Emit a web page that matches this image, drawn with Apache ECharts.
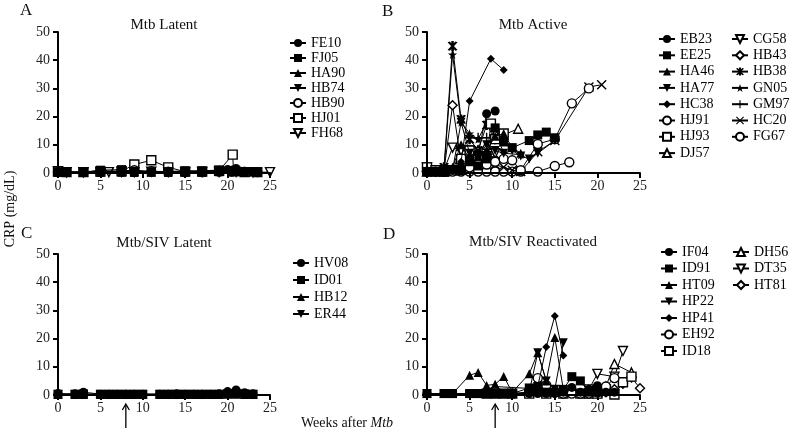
<!DOCTYPE html>
<html><head><meta charset="utf-8">
<script src="https://cdn.jsdelivr.net/npm/echarts@6/dist/echarts.min.js"></script>
<style>html,body{margin:0;padding:0;background:#fff}#c{width:792px;height:441px}</style>
</head><body><div id="c"></div>
<script>
// ---------- DATA (weeks after Mtb, CRP mg/dL) ----------
const xTicks = [0, 5, 10, 15, 20, 25];
const yTicks = [0, 10, 20, 30, 40, 50];
const panelTitles = ['Mtb Latent', 'Mtb Active', 'Mtb/SIV Latent', 'Mtb/SIV Reactivated'];
const panelLetters = ['A', 'B', 'C', 'D'];

// Panel A: Mtb Latent
const FE10_wk = [0,1,3,5,7.5,9,11,13,15,17,19,20,20.5,21,22,23,23.5];
const FE10_crp = [0.4,0.3,0.3,0.8,0.6,0.5,0.4,0.4,0.5,0.5,1.0,1.2,1.0,1.6,0.6,0.4,0.3];
const FJ05_wk = [0,1,3,5,7.5,9,11,13,15,17,19,20.5,21.5,23];
const FJ05_crp = [0.3,0.4,0.3,1.0,1.2,0.5,0.3,0.5,0.8,0.8,1.0,0.9,0.5,0.3];
const HA90_wk = [0,1,3,5,7.5,9,11,13,15,17,19,20.5,22,23.5];
const HA90_crp = [0.2,0.2,0.2,0.3,0.3,0.2,0.3,0.2,0.3,0.3,0.4,0.5,0.3,0.2];
const HB74_wk = [0,1,3,5,7.5,9,11,13,15,17,19,20.5,22,23.5];
const HB74_crp = [0.1,0.1,0.2,0.2,0.2,0.3,0.2,0.2,0.2,0.2,0.3,0.3,0.2,0.2];
const HB90_wk = [0,1,3,5,7.5,9,11,13,15,17,19,20.5,22,23.5];
const HB90_crp = [0.3,0.3,0.3,0.4,0.5,1.0,0.6,0.5,0.3,0.3,0.5,0.5,0.4,0.3];
const HJ01_wk = [0,1,3,5,7.5,9,11,13,15,17,19,20.6,20.7,22,23.5];
const HJ01_crp = [0.5,0.3,0.3,0.5,0.6,3.0,4.5,2.0,0.5,0.5,0.8,6.5,0.6,0.3,0.3];
const FH68_wk = [0,1,3,5,6,7.5,9,11,13,15,17,19,21,23,25];
const FH68_crp = [0.6,0.3,0.3,0.4,0.3,0.4,0.3,0.5,0.3,0.3,0.4,0.4,0.4,0.3,0.3];

// Panel B: Mtb Active
const EB23_wk = [0,1,2,3,4,5,6,7,8];
const EB23_crp = [0.5,0.5,0.5,1,2,5,7,21,22];
const EE25_wk = [0,1,2,3,4,5,6,7,8,9,10,12,13,14,15];
const EE25_crp = [0.5,0.5,0.5,1,1,4,2.5,5,16,11,9,11.5,13.5,14.5,12.5];
const HA46_wk = [0,1,2,3,4,5,6,7,8,9,10,11];
const HA46_crp = [0.5,0.5,1,2,10,5,6,8,13,14,9,7];
const HA77_wk = [0,1,2,3,4,5,6,7,8,9,10,11,12,13,15];
const HA77_crp = [0.5,0.5,1,1,18,7,6,10,8,7,8,6,5,7,11.5];
const HC38_wk = [0,1,2,3,4,5,7.5,9];
const HC38_crp = [0.5,0.5,0.5,1,4,25.5,40.5,36.5];
const HJ91_wk = [0,1,2,3,4,5,6,7,8,9,10,11,13,15,17,19];
const HJ91_crp = [0.5,0.5,0.5,0.5,1,2,3,3,4,5,4.5,1,10.3,12,24.7,30];
const HJ93_wk = [0,1,2,3,4,5,6,7,7.5,8,9];
const HJ93_crp = [2,1,0.5,1,5,8,6,5,17.5,12,14];
const DJ57_wk = [0,1,2,3,4,5,6,7,8,9,10.7];
const DJ57_crp = [0.5,0.5,0.5,1,3,5,8,10,14,13.5,15.7];
const CG58_wk = [0,1,2,3,4,5,6,7,8];
const CG58_crp = [2,1,1,9,8,8,5,6,7];
const HB43_wk = [0,1,2,3,4,5,6,7,8];
const HB43_crp = [0.5,0.5,1,24,4,5,6,7,5];
const HB38_wk = [0,1,2,3,4,5,6,7,8,9];
const HB38_crp = [0.5,0.5,2,45,19,12,8,17,12,13];
const GN05_wk = [0,1,2,3,4,5,6,7,8,9,11];
const GN05_crp = [0.5,0.5,1,42,18,14,12,18,15,7,6.5];
const GM97_wk = [0,1,2,3,4,5,6,7,8,9];
const GM97_crp = [0.5,0.5,0.5,1,8,12.5,12.5,12.5,12.5,13];
const HC20_wk = [0,1,2,3,4,5,6,7,8,9,10,11,13,15,19,20.5];
const HC20_crp = [0.5,0.5,0.5,1,1,2,3,4,3,2,1,0.5,7.5,11.5,30.5,31.3];
const FG67_wk = [0,2,4,5,6,7,8,9,10,11,13,15,16.7];
const FG67_crp = [0.5,0.5,0.5,0.5,0.5,0.5,0.5,0.5,0.5,0.5,0.5,2.5,3.8];

// Panel C: Mtb/SIV Latent
const HV08_wk = [0,2,3,5,6,7,8,9,10,12,13,14,15,16,17,18,19,20,21,22,23];
const HV08_crp = [0.5,0.4,1.0,0.3,0.3,0.3,0.3,0.3,0.3,0.3,0.3,0.4,0.3,0.3,0.3,0.3,0.4,1.2,1.8,0.8,0.4];
const ID01_wk = [0,2,3,5,6,7,8,9,10,12,13,14,15,16,17,18,19,20,21,22,23];
const ID01_crp = [0.3,0.3,0.4,0.3,0.3,0.3,0.3,0.3,0.3,0.3,0.3,0.3,0.3,0.3,0.3,0.3,0.3,0.5,0.6,0.4,0.3];
const HB12_wk = [0,2,3,5,6,7,8,9,10,12,13,14,15,16,17,18,19,20,21,22,23];
const HB12_crp = [0.2,0.2,0.2,0.2,0.2,0.2,0.2,0.2,0.2,0.2,0.2,0.2,0.2,0.2,0.2,0.2,0.2,0.3,0.3,0.2,0.2];
const ER44_wk = [0,2,3,5,6,7,8,9,10,12,13,14,15,16,17,18,19,20,21,22,23];
const ER44_crp = [0.1,0.1,0.1,0.1,0.1,0.1,0.1,0.1,0.1,0.1,0.1,0.1,0.1,0.1,0.1,0.1,0.1,0.2,0.2,0.1,0.1];

// Panel D: Mtb/SIV Reactivated
const IF04_wk = [0,2,3,5,6,7,8,9,10,12,13,14,15,16,17,18,19,20,21,22];
const IF04_crp = [0.5,0.5,0.5,0.5,0.5,0.5,0.5,0.5,0.5,0.5,0.5,0.5,0.5,1,2.7,1,2,3.3,1,1];
const ID91_wk = [0,2,3,5,6,7,8,9,10,12,13,14,15,16,17,18,19,20];
const ID91_crp = [0.5,0.5,0.5,0.5,0.5,0.5,0.5,0.5,0.5,2.5,3,1,1,2,6.5,5,1,1];
const HT09_wk = [0,2,3,5,6,7,8,9,10,12,13,14,15,16];
const HT09_crp = [0.5,0.5,0.5,7,8,3.4,3.8,6.6,1,7.5,15,5,20.4,2];
const HP22_wk = [0,2,3,5,6,7,8,9,10,12,13,14,15,16];
const HP22_crp = [0.5,0.5,0.5,0.5,0.5,0.5,0.5,0.5,0.5,1,15,5,2,18.5];
const HP41_wk = [0,2,3,5,6,7,8,9,10,12,13,14,15,16];
const HP41_crp = [0.5,0.5,0.5,0.5,0.5,0.5,0.5,0.5,0.5,0.5,3,17,28,14];
const EH92_wk = [10,12,13,14,15,16,17,18,19,20,21,22];
const EH92_crp = [0.5,1,6,3.5,1,0.5,0.5,0.5,0.5,1,3,6];
const ID18_wk = [7,8,9,10,12,14,16,18,19,20,21,22,23,24];
const ID18_crp = [0.5,0.5,0.5,0.5,0.5,0.5,0.5,0.5,0.5,0.5,2,0.2,4.5,6.5];
const DH56_wk = [7,8,20,21,22,24];
const DH56_crp = [2,3,1,3,11,8];
const DT35_wk = [19,20,22,23];
const DT35_crp = [2,7.5,6.5,15.6];
const HT81_wk = [20,21,22,23,24,25];
const HT81_crp = [0.5,1,2,4,6.2,2.4];

const infectionWeek = 8; // SIV co-infection arrow (panels C, D)

// ---------- STYLE ----------
const FONT = '"Liberation Serif","DejaVu Serif",serif';
const SYM = {
  circle: 'circle', square: 'rect', tri: 'triangle', diamond: 'diamond',
  invtri: 'path://M0,0L10,0L5,8.66Z',
  plus: 'path://M4.3,0H5.7V4.3H10V5.7H5.7V10H4.3V5.7H0V4.3H4.3Z',
  cross: 'path://M1,0L10,9L9,10L0,1Z M9,0L10,1L1,10L0,9Z',
  aster: 'path://M4.2,0H5.8V10H4.2Z M1.8,1.2L3.2,0.4L8.2,8.8L6.8,9.6Z M6.8,0.4L8.2,1.2L3.2,9.6L1.8,8.8Z',
  star: 'path://M5,0L6.2,3.6L10,3.6L7,5.9L8.1,9.5L5,7.3L1.9,9.5L3,5.9L0,3.6L3.8,3.6Z'
};

let zCounter = 200;
function mk(name, panel, wk, crp, shape, open, size) {
  zCounter -= 1;
  return {
    name: name, type: 'line', xAxisIndex: panel, yAxisIndex: panel,
    data: wk.map((w, i) => [w, crp[i]]),
    symbol: SYM[shape], symbolSize: size || 9,
    lineStyle: { color: '#000', width: 1 },
    itemStyle: open ? { color: '#fff', borderColor: '#000', borderWidth: 1.4 }
                    : { color: '#000', borderColor: '#000', borderWidth: 0 },
    emphasis: { disabled: true }, silent: true, animation: false, z: zCounter
  };
}

const series = [
  mk('FE10', 0, FE10_wk, FE10_crp, 'circle', false),
  mk('FJ05', 0, FJ05_wk, FJ05_crp, 'square', false),
  mk('HA90', 0, HA90_wk, HA90_crp, 'tri', false),
  mk('HB74', 0, HB74_wk, HB74_crp, 'invtri', false),
  mk('HB90', 0, HB90_wk, HB90_crp, 'circle', true),
  mk('HJ01', 0, HJ01_wk, HJ01_crp, 'square', true),
  mk('FH68', 0, FH68_wk, FH68_crp, 'invtri', true),

  mk('EB23', 1, EB23_wk, EB23_crp, 'circle', false),
  mk('EE25', 1, EE25_wk, EE25_crp, 'square', false),
  mk('HA46', 1, HA46_wk, HA46_crp, 'tri', false),
  mk('HA77', 1, HA77_wk, HA77_crp, 'invtri', false),
  mk('HC38', 1, HC38_wk, HC38_crp, 'diamond', false, 8),
  mk('HJ91', 1, HJ91_wk, HJ91_crp, 'circle', true),
  mk('HJ93', 1, HJ93_wk, HJ93_crp, 'square', true),
  mk('DJ57', 1, DJ57_wk, DJ57_crp, 'tri', true),
  mk('CG58', 1, CG58_wk, CG58_crp, 'invtri', true),
  mk('HB43', 1, HB43_wk, HB43_crp, 'diamond', true),
  mk('HB38', 1, HB38_wk, HB38_crp, 'aster', false, 10),
  mk('GN05', 1, GN05_wk, GN05_crp, 'star', false),
  mk('GM97', 1, GM97_wk, GM97_crp, 'plus', false, 10),
  mk('HC20', 1, HC20_wk, HC20_crp, 'cross', false, 10),
  mk('FG67', 1, FG67_wk, FG67_crp, 'circle', true),

  mk('HV08', 2, HV08_wk, HV08_crp, 'circle', false),
  mk('ID01', 2, ID01_wk, ID01_crp, 'square', false),
  mk('HB12', 2, HB12_wk, HB12_crp, 'tri', false),
  mk('ER44', 2, ER44_wk, ER44_crp, 'invtri', false),

  mk('IF04', 3, IF04_wk, IF04_crp, 'circle', false),
  mk('ID91', 3, ID91_wk, ID91_crp, 'square', false),
  mk('HT09', 3, HT09_wk, HT09_crp, 'tri', false),
  mk('HP22', 3, HP22_wk, HP22_crp, 'invtri', false),
  mk('HP41', 3, HP41_wk, HP41_crp, 'diamond', false, 8),
  mk('EH92', 3, EH92_wk, EH92_crp, 'circle', true),
  mk('ID18', 3, ID18_wk, ID18_crp, 'square', true),
  mk('DH56', 3, DH56_wk, DH56_crp, 'tri', true),
  mk('DT35', 3, DT35_wk, DT35_crp, 'invtri', true),
  mk('HT81', 3, HT81_wk, HT81_crp, 'diamond', true)
];

const grids = [
  { left: 58, top: 32, width: 212, height: 141 },
  { left: 427, top: 32, width: 213, height: 141 },
  { left: 58, top: 254, width: 212, height: 141 },
  { left: 427, top: 254, width: 213, height: 141 }
];

const axisCommon = {
  axisLine: { show: true, lineStyle: { color: '#000', width: 2 } },
  axisTick: { show: true, inside: false, length: 5, lineStyle: { color: '#000', width: 2 } },
  splitLine: { show: false },
  axisLabel: { color: '#222', fontFamily: FONT, fontSize: 14 },
  z: 300
};

const xAxes = grids.map((g, i) => Object.assign({}, axisCommon, {
  type: 'value', gridIndex: i, min: xTicks[0], max: xTicks[xTicks.length - 1],
  interval: xTicks[1] - xTicks[0],
  axisLabel: Object.assign({}, axisCommon.axisLabel, { margin: 6 })
}));
const yAxes = grids.map((g, i) => Object.assign({}, axisCommon, {
  type: 'value', gridIndex: i, min: yTicks[0], max: yTicks[yTicks.length - 1],
  interval: yTicks[1] - yTicks[0],
  axisLabel: Object.assign({}, axisCommon.axisLabel, { margin: 8 })
}));

function legend(names, left, top, gap) {
  return {
    data: names, orient: 'vertical', left: left, top: top, itemGap: gap,
    itemWidth: 16, itemHeight: 10, selectedMode: false, padding: 0,
    textStyle: { color: '#000', fontFamily: FONT, fontSize: 14 }
  };
}
const legends = [
  legend(['FE10','FJ05','HA90','HB74','HB90','HJ01','FH68'], 289, 36, 1),
  legend(['EB23','EE25','HA46','HA77','HC38','HJ91','HJ93','DJ57'], 658, 32, 2.3),
  legend(['CG58','HB43','HB38','GN05','GM97','HC20','FG67'], 731, 32, 2.3),
  legend(['HV08','ID01','HB12','ER44'], 292, 256, 3),
  legend(['IF04','ID91','HT09','HP22','HP41','EH92','ID18'], 660, 245, 2.5),
  legend(['DH56','DT35','HT81'], 732, 245, 2.5)
];

const titleStyle = { fill: '#111', font: '15px ' + FONT, textAlign: 'center', textVerticalAlign: 'middle' };
const letterStyle = { fill: '#111', font: '17px ' + FONT, textAlign: 'left', textVerticalAlign: 'top' };
const staticGraphics = [
  { type: 'text', left: 20, top: 2, style: Object.assign({ text: panelLetters[0] }, letterStyle) },
  { type: 'text', left: 382, top: 3, style: Object.assign({ text: panelLetters[1] }, letterStyle) },
  { type: 'text', left: 21, top: 225, style: Object.assign({ text: panelLetters[2] }, letterStyle) },
  { type: 'text', left: 383, top: 226, style: Object.assign({ text: panelLetters[3] }, letterStyle) },
  { type: 'text', x: 164, y: 25, style: Object.assign({ text: panelTitles[0] }, titleStyle) },
  { type: 'text', x: 533, y: 25, style: Object.assign({ text: panelTitles[1] }, titleStyle) },
  { type: 'text', x: 164, y: 243, style: Object.assign({ text: panelTitles[2] }, titleStyle) },
  { type: 'text', x: 533, y: 242, style: Object.assign({ text: panelTitles[3] }, titleStyle) },
  { type: 'text', x: 10, y: 209, rotation: Math.PI / 2,
    style: { text: 'CRP (mg/dL)', fill: '#111', font: '14px ' + FONT, textAlign: 'center', textVerticalAlign: 'middle' } },
  { type: 'text', x: 347, y: 423,
    style: { text: '{a|Weeks after }{b|Mtb}', textAlign: 'center', textVerticalAlign: 'middle',
      rich: { a: { fontFamily: FONT, fontSize: 14, fill: '#111' },
              b: { fontFamily: FONT, fontSize: 14, fontStyle: 'italic', fill: '#111' } } } }
];

const chart = echarts.init(document.getElementById('c'), null, { renderer: 'canvas' });
chart.setOption({
  animation: false,
  backgroundColor: '#fff',
  grid: grids,
  xAxis: xAxes,
  yAxis: yAxes,
  legend: legends,
  series: series,
  graphic: staticGraphics
});

// arrows marking SIV co-infection, placed through the axes' scales
const arrows = [2, 3].map(function (pi) {
  const p = chart.convertToPixel({ xAxisIndex: pi, yAxisIndex: pi }, [infectionWeek, 0]);
  const tipY = p[1] + 9, baseY = p[1] + 33;
  return { type: 'group', children: [
    { type: 'line', shape: { x1: p[0], y1: tipY + 1, x2: p[0], y2: baseY }, style: { stroke: '#000', lineWidth: 1.3 } },
    { type: 'polyline', shape: { points: [[p[0] - 3.5, tipY + 6], [p[0], tipY], [p[0] + 3.5, tipY + 6]] }, style: { stroke: '#000', lineWidth: 1.3, fill: null } }
  ] };
});
chart.setOption({ graphic: staticGraphics.concat(arrows) });
</script>
</body></html>
